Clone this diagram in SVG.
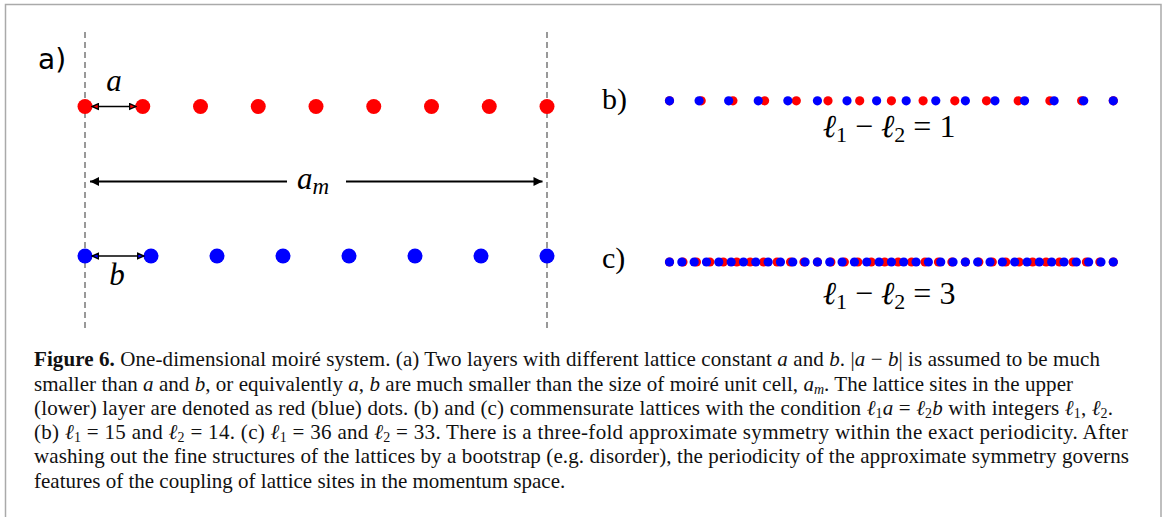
<svg xmlns="http://www.w3.org/2000/svg" width="1165" height="517" viewBox="0 0 1165 517">
<style>
.bg{fill:#fff}
.frame{fill:none;stroke:#aaa;stroke-width:1.5}
.guide{stroke:#808080;stroke-width:1.6;stroke-dasharray:6 4;fill:none}
.r{fill:#ff0000}
.b{fill:#0000ff}
.dim{stroke:#000;stroke-width:1.7;fill:none}
.dimm{stroke:#000;stroke-width:2;fill:none}
.lbls{font-family:"DejaVu Sans",sans-serif;font-size:28px;fill:#000}
.lblr{font-family:"Liberation Serif","DejaVu Serif",serif;font-size:30px;fill:#000}
.math{font-family:"Liberation Serif","DejaVu Serif",serif;font-style:italic;font-size:31px;fill:#000}
.eq{font-family:"Liberation Serif","DejaVu Serif",serif;font-size:32px;fill:#000}
.cap{font-family:"Liberation Serif","DejaVu Serif",serif;font-size:21px;fill:#111}
.i{font-style:italic}
</style>
<defs>
<marker id="hr" viewBox="0 0 10 10" refX="9" refY="5" markerUnits="userSpaceOnUse" markerWidth="8" markerHeight="8" orient="auto-start-reverse"><path d="M1,1.5 L9,5 L1,8.5 Z" fill="#ff0000" stroke="#000" stroke-width="1.8"/></marker>
<marker id="hb" viewBox="0 0 10 10" refX="9" refY="5" markerUnits="userSpaceOnUse" markerWidth="8" markerHeight="8" orient="auto-start-reverse"><path d="M1,1.5 L9,5 L1,8.5 Z" fill="#0000ff" stroke="#000" stroke-width="1.8"/></marker>
<marker id="hk" viewBox="0 0 10 10" refX="10" refY="5" markerUnits="userSpaceOnUse" markerWidth="11" markerHeight="9" orient="auto"><path d="M0,0 L10,5 L0,10 Z" fill="#000"/></marker>
</defs>
<rect class="bg" x="0" y="0" width="1165" height="517"/>
<path class="frame" d="M5.5,517 V4.5 H1161 V517"/>

<g id="panel-a">
<text class="lbls" x="38" y="69">a)</text>
<line class="guide" x1="85" y1="32" x2="85" y2="330"/>
<line class="guide" x1="547" y1="32" x2="547" y2="330"/>
<g id="upper-layer">
<circle class="r" cx="85" cy="106.5" r="7.5"/><circle class="r" cx="142.75" cy="106.5" r="7.5"/><circle class="r" cx="200.5" cy="106.5" r="7.5"/><circle class="r" cx="258.25" cy="106.5" r="7.5"/><circle class="r" cx="316" cy="106.5" r="7.5"/><circle class="r" cx="373.75" cy="106.5" r="7.5"/><circle class="r" cx="431.5" cy="106.5" r="7.5"/><circle class="r" cx="489.25" cy="106.5" r="7.5"/><circle class="r" cx="547" cy="106.5" r="7.5"/>
</g>
<g id="lower-layer">
<circle class="b" cx="85" cy="256" r="7.5"/><circle class="b" cx="151" cy="256" r="7.5"/><circle class="b" cx="217" cy="256" r="7.5"/><circle class="b" cx="283" cy="256" r="7.5"/><circle class="b" cx="349" cy="256" r="7.5"/><circle class="b" cx="415" cy="256" r="7.5"/><circle class="b" cx="481" cy="256" r="7.5"/><circle class="b" cx="547" cy="256" r="7.5"/>
</g>
<g id="connectors">
<line class="dim" x1="92" y1="106.5" x2="136" y2="106.5" marker-start="url(#hr)" marker-end="url(#hr)"/>
<line class="dim" x1="92" y1="256" x2="144" y2="256" marker-start="url(#hb)" marker-end="url(#hb)"/>
<line class="dimm" x1="287" y1="181.5" x2="90" y2="181.5" marker-end="url(#hk)"/>
<line class="dimm" x1="346" y1="181.5" x2="542.5" y2="181.5" marker-end="url(#hk)"/>
</g>
<text class="math" x="114" y="90.5" text-anchor="middle">a</text>
<text class="math" x="117" y="285" text-anchor="middle">b</text>
<text class="math" x="297" y="188.5">a<tspan font-size="23" dy="5">m</tspan></text>
</g>

<g id="panel-b">
<text class="lblr" x="602" y="109">b)</text>
<g id="b-red">
<circle class="r" cx="669.5" cy="100.8" r="4.6"/><circle class="r" cx="701.2" cy="100.8" r="4.6"/><circle class="r" cx="732.9" cy="100.8" r="4.6"/><circle class="r" cx="764.6" cy="100.8" r="4.6"/><circle class="r" cx="796.3" cy="100.8" r="4.6"/><circle class="r" cx="828" cy="100.8" r="4.6"/><circle class="r" cx="859.7" cy="100.8" r="4.6"/><circle class="r" cx="891.4" cy="100.8" r="4.6"/><circle class="r" cx="923.1" cy="100.8" r="4.6"/><circle class="r" cx="954.8" cy="100.8" r="4.6"/><circle class="r" cx="986.5" cy="100.8" r="4.6"/><circle class="r" cx="1018.2" cy="100.8" r="4.6"/><circle class="r" cx="1049.9" cy="100.8" r="4.6"/><circle class="r" cx="1081.6" cy="100.8" r="4.6"/><circle class="r" cx="1113.3" cy="100.8" r="4.6"/>
</g>
<g id="b-blue">
<circle class="b" cx="669.5" cy="100.8" r="4.6"/><circle class="b" cx="699.09" cy="100.8" r="4.6"/><circle class="b" cx="728.67" cy="100.8" r="4.6"/><circle class="b" cx="758.26" cy="100.8" r="4.6"/><circle class="b" cx="787.85" cy="100.8" r="4.6"/><circle class="b" cx="817.43" cy="100.8" r="4.6"/><circle class="b" cx="847.02" cy="100.8" r="4.6"/><circle class="b" cx="876.61" cy="100.8" r="4.6"/><circle class="b" cx="906.19" cy="100.8" r="4.6"/><circle class="b" cx="935.78" cy="100.8" r="4.6"/><circle class="b" cx="965.37" cy="100.8" r="4.6"/><circle class="b" cx="994.95" cy="100.8" r="4.6"/><circle class="b" cx="1024.54" cy="100.8" r="4.6"/><circle class="b" cx="1054.13" cy="100.8" r="4.6"/><circle class="b" cx="1083.71" cy="100.8" r="4.6"/><circle class="b" cx="1113.3" cy="100.8" r="4.6"/>
</g>
<text class="eq" x="889" y="137" text-anchor="middle"><tspan class="i">ℓ</tspan><tspan font-size="22" dy="5">1</tspan><tspan dy="-5"> − </tspan><tspan class="i">ℓ</tspan><tspan font-size="22" dy="5">2</tspan><tspan dy="-5"> = 1</tspan></text>
</g>

<g id="panel-c">
<text class="lblr" x="602" y="268">c)</text>
<g id="c-red">
<circle class="r" cx="669.5" cy="262" r="4.6"/><circle class="r" cx="682.95" cy="262" r="4.6"/><circle class="r" cx="696.4" cy="262" r="4.6"/><circle class="r" cx="709.85" cy="262" r="4.6"/><circle class="r" cx="723.29" cy="262" r="4.6"/><circle class="r" cx="736.74" cy="262" r="4.6"/><circle class="r" cx="750.19" cy="262" r="4.6"/><circle class="r" cx="763.64" cy="262" r="4.6"/><circle class="r" cx="777.09" cy="262" r="4.6"/><circle class="r" cx="790.54" cy="262" r="4.6"/><circle class="r" cx="803.99" cy="262" r="4.6"/><circle class="r" cx="817.43" cy="262" r="4.6"/><circle class="r" cx="830.88" cy="262" r="4.6"/><circle class="r" cx="844.33" cy="262" r="4.6"/><circle class="r" cx="857.78" cy="262" r="4.6"/><circle class="r" cx="871.23" cy="262" r="4.6"/><circle class="r" cx="884.68" cy="262" r="4.6"/><circle class="r" cx="898.12" cy="262" r="4.6"/><circle class="r" cx="911.57" cy="262" r="4.6"/><circle class="r" cx="925.02" cy="262" r="4.6"/><circle class="r" cx="938.47" cy="262" r="4.6"/><circle class="r" cx="951.92" cy="262" r="4.6"/><circle class="r" cx="965.37" cy="262" r="4.6"/><circle class="r" cx="978.82" cy="262" r="4.6"/><circle class="r" cx="992.26" cy="262" r="4.6"/><circle class="r" cx="1005.71" cy="262" r="4.6"/><circle class="r" cx="1019.16" cy="262" r="4.6"/><circle class="r" cx="1032.61" cy="262" r="4.6"/><circle class="r" cx="1046.06" cy="262" r="4.6"/><circle class="r" cx="1059.51" cy="262" r="4.6"/><circle class="r" cx="1072.96" cy="262" r="4.6"/><circle class="r" cx="1086.4" cy="262" r="4.6"/><circle class="r" cx="1099.85" cy="262" r="4.6"/><circle class="r" cx="1113.3" cy="262" r="4.6"/>
</g>
<g id="c-blue">
<circle class="b" cx="669.5" cy="262" r="4.6"/><circle class="b" cx="681.83" cy="262" r="4.6"/><circle class="b" cx="694.16" cy="262" r="4.6"/><circle class="b" cx="706.48" cy="262" r="4.6"/><circle class="b" cx="718.81" cy="262" r="4.6"/><circle class="b" cx="731.14" cy="262" r="4.6"/><circle class="b" cx="743.47" cy="262" r="4.6"/><circle class="b" cx="755.79" cy="262" r="4.6"/><circle class="b" cx="768.12" cy="262" r="4.6"/><circle class="b" cx="780.45" cy="262" r="4.6"/><circle class="b" cx="792.78" cy="262" r="4.6"/><circle class="b" cx="805.11" cy="262" r="4.6"/><circle class="b" cx="817.43" cy="262" r="4.6"/><circle class="b" cx="829.76" cy="262" r="4.6"/><circle class="b" cx="842.09" cy="262" r="4.6"/><circle class="b" cx="854.42" cy="262" r="4.6"/><circle class="b" cx="866.74" cy="262" r="4.6"/><circle class="b" cx="879.07" cy="262" r="4.6"/><circle class="b" cx="891.4" cy="262" r="4.6"/><circle class="b" cx="903.73" cy="262" r="4.6"/><circle class="b" cx="916.06" cy="262" r="4.6"/><circle class="b" cx="928.38" cy="262" r="4.6"/><circle class="b" cx="940.71" cy="262" r="4.6"/><circle class="b" cx="953.04" cy="262" r="4.6"/><circle class="b" cx="965.37" cy="262" r="4.6"/><circle class="b" cx="977.69" cy="262" r="4.6"/><circle class="b" cx="990.02" cy="262" r="4.6"/><circle class="b" cx="1002.35" cy="262" r="4.6"/><circle class="b" cx="1014.68" cy="262" r="4.6"/><circle class="b" cx="1027.01" cy="262" r="4.6"/><circle class="b" cx="1039.33" cy="262" r="4.6"/><circle class="b" cx="1051.66" cy="262" r="4.6"/><circle class="b" cx="1063.99" cy="262" r="4.6"/><circle class="b" cx="1076.32" cy="262" r="4.6"/><circle class="b" cx="1088.64" cy="262" r="4.6"/><circle class="b" cx="1100.97" cy="262" r="4.6"/><circle class="b" cx="1113.3" cy="262" r="4.6"/>
</g>
<text class="eq" x="889" y="304" text-anchor="middle"><tspan class="i">ℓ</tspan><tspan font-size="22" dy="5">1</tspan><tspan dy="-5"> − </tspan><tspan class="i">ℓ</tspan><tspan font-size="22" dy="5">2</tspan><tspan dy="-5"> = 3</tspan></text>
</g>

<g id="caption">
<text class="cap" x="34" y="366" textLength="1066" lengthAdjust="spacing"><tspan font-weight="bold">Figure 6.</tspan> One-dimensional moiré system. (a) Two layers with different lattice constant <tspan class="i">a</tspan> and <tspan class="i">b</tspan>. |<tspan class="i">a</tspan> − <tspan class="i">b</tspan>| is assumed to be much</text>
<text class="cap" x="34" y="390.5" textLength="1039" lengthAdjust="spacing">smaller than <tspan class="i">a</tspan> and <tspan class="i">b</tspan>, or equivalently <tspan class="i">a</tspan>, <tspan class="i">b</tspan> are much smaller than the size of moiré unit cell, <tspan class="i">a</tspan><tspan class="i" font-size="14" dy="3">m</tspan><tspan dy="-3">. The lattice sites in the upper</tspan></text>
<text class="cap" x="34" y="415" textLength="1079" lengthAdjust="spacing">(lower) layer are denoted as red (blue) dots. (b) and (c) commensurate lattices with the condition <tspan class="i">ℓ</tspan><tspan font-size="14" dy="3">1</tspan><tspan class="i" dy="-3">a</tspan> = <tspan class="i">ℓ</tspan><tspan font-size="14" dy="3">2</tspan><tspan class="i" dy="-3">b</tspan> with integers <tspan class="i">ℓ</tspan><tspan font-size="14" dy="3">1</tspan><tspan dy="-3">, </tspan><tspan class="i">ℓ</tspan><tspan font-size="14" dy="3">2</tspan><tspan dy="-3">.</tspan></text>
<text class="cap" x="34" y="439" textLength="1094" lengthAdjust="spacing">(b) <tspan class="i">ℓ</tspan><tspan font-size="14" dy="3">1</tspan><tspan dy="-3"> = 15 and </tspan><tspan class="i">ℓ</tspan><tspan font-size="14" dy="3">2</tspan><tspan dy="-3"> = 14. (c) </tspan><tspan class="i">ℓ</tspan><tspan font-size="14" dy="3">1</tspan><tspan dy="-3"> = 36 and </tspan><tspan class="i">ℓ</tspan><tspan font-size="14" dy="3">2</tspan><tspan dy="-3"> = 33. There is a three-fold approximate symmetry within the exact periodicity. After</tspan></text>
<text class="cap" x="34" y="463" textLength="1095" lengthAdjust="spacing">washing out the fine structures of the lattices by a bootstrap (e.g. disorder), the periodicity of the approximate symmetry governs</text>
<text class="cap" x="34" y="487.5">features of the coupling of lattice sites in the momentum space.</text>
</g>
</svg>
